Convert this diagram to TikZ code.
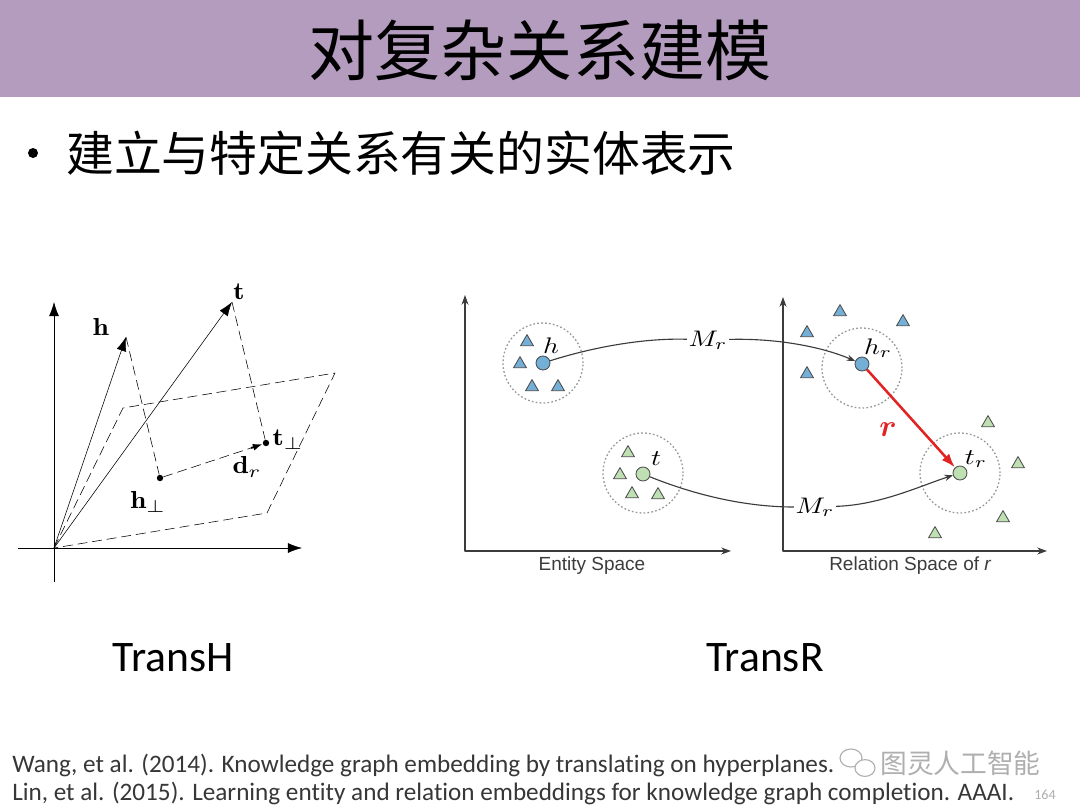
\documentclass[tikz,border=0pt]{standalone}
\usepackage{amsmath, amssymb}
\usepackage{fontspec}
\usepackage{xcolor}
\usetikzlibrary{arrows.meta, shapes.geometric}

\newfontfamily\cjk{Noto Sans CJK SC}
\newfontfamily\carl[Ligatures=NoCommon]{Carlito}
\newfontfamily\lsans{Liberation Sans}

\definecolor{titlebar}{RGB}{180,156,190}
\definecolor{entblue}{RGB}{115,175,215}
\definecolor{entgreen}{RGB}{190,224,178}
\definecolor{ringgray}{RGB}{150,150,150}
\definecolor{axisgray}{RGB}{60,60,60}
\definecolor{footgray}{RGB}{55,55,55}
\definecolor{markgray}{RGB}{175,175,175}
\definecolor{arrowred}{RGB}{225,35,35}

\tikzset{
	btri/.style = {regular polygon, regular polygon sides=3, draw=black!70, fill=entblue, line width=0.6pt, inner sep=0pt, minimum size=0.37cm},
	gtri/.style = {btri, fill=entgreen},
	bdot/.style = {circle, draw=black!70, fill=entblue, line width=0.6pt, inner sep=0pt, minimum size=0.35cm},
	gdot/.style = {bdot, fill=entgreen},
	ring/.style = {circle, draw=ringgray, line width=0.9pt, dash pattern=on 1.2pt off 1.6pt, inner sep=0pt, minimum size=2cm},
	blob/.style = {circle, fill, inner sep=0pt, minimum size=0.16cm},
	lab/.style = {inner sep=1pt},
}
\newcommand{\rlab}[1]{\scalebox{1.95}[1.6]{$#1$}}
\newcommand{\hlab}[1]{\scalebox{2.05}[1.75]{$#1$}}

\begin{document}
\begin{tikzpicture}[x=0.025cm, y=-0.025cm, line join=round]
		\useasboundingbox (0,0) rectangle (1080,810);
		\fill [white] (0,0) rectangle (1080,810);
		
		%title bar
		\fill [titlebar] (0,0) rectangle (1080,97);
		\node (title) at (540,50) {\cjk\fontsize{47}{50}\selectfont 对复杂关系建模};
		\node [blob, minimum size=0.25cm] (bullet) at (33,153) {};
		\node [anchor=west, inner sep=0pt] (sub) at (66,153) {\cjk\fontsize{34}{36}\selectfont 建立与特定关系有关的实体表示};
		
		%TransH: points
		\coordinate (O) at (54,548);
		\coordinate (xa) at (18,548);
		\coordinate (xb) at (302,548);
		\coordinate (ya) at (54,582);
		\coordinate (yb) at (54,302);
		\coordinate (h) at (126,337);
		\coordinate (t) at (232,302);
		\coordinate (pA) at (123,408);
		\coordinate (pB) at (267,513);
		\coordinate (pC) at (335,373);
		\coordinate (dr) at (251,448);
		\node [blob] (hp) at (160,478) {};
		\node [blob] (tp) at (266,443) {};
		
		%TransH: axes and hyperplane
		\draw [-{Latex[length=10pt, width=7pt]}] (xa) -- (xb);
		\draw [-{Latex[length=10pt, width=7pt]}] (ya) -- (yb);
		\draw [dashed, dash pattern=on 7pt off 3.5pt] (O) -- (pA) -- (pC) -- (pB) -- cycle;
		
		%TransH: vectors and projections
		\draw [-{Latex[length=10pt, width=7pt]}] (O) -- (h);
		\draw [-{Latex[length=10pt, width=7pt]}] (O) -- (t);
		\draw [dash pattern=on 7pt off 3.5pt] (h) -- (hp);
		\draw [dash pattern=on 7pt off 3.5pt] (t) -- (tp);
		\draw [dash pattern=on 7pt off 3.5pt] (hp) -- (dr);
		\draw [line width=1.3pt, -{Latex[length=7pt, width=5pt]}] (dr) -- (tp);
		
		\node [lab] (lh) at (101,327) {\hlab{\mathbf{h}}};
		\node [lab] (lt) at (239,292) {\hlab{\mathbf{t}}};
		\node [lab] (lhp) at (148,502) {\hlab{\mathbf{h}_\perp}};
		\node [lab] (ltp) at (288,440) {\hlab{\mathbf{t}_\perp}};
		\node [lab] (ldr) at (247,467) {\hlab{\mathbf{d}_r}};
		
		%TransR: axes
		\coordinate (eo) at (465,551);
		\coordinate (ey) at (465,295);
		\coordinate (ex) at (731,551);
		\coordinate (ro) at (783,551);
		\coordinate (ry) at (783,297);
		\coordinate (rx) at (1047,551);
		\draw [axisgray, line width=0.8pt, {Stealth[length=7pt, width=5pt]}-{Stealth[length=7pt, width=5pt]}] (ey) -- (eo) -- (ex);
		\draw [axisgray, line width=0.8pt, {Stealth[length=7pt, width=5pt]}-{Stealth[length=7pt, width=5pt]}] (ry) -- (ro) -- (rx);
		\node [axisgray, font=\lsans\fontsize{13.5}{15}\selectfont] (espace) at (592,566) {Entity Space};
		\node [axisgray, font=\lsans\fontsize{13.5}{15}\selectfont] (rspace) at (910,566) {Relation Space of {\itshape r}};
		
		%TransR: entity space
		\node [ring] (hring) at (543,363) {};
		\node [ring] (tring) at (643,473) {};
		\foreach \x/\y [count=\i] in {527/342, 520/364, 532/387, 558/387}
			\node [btri] (hn\i) at (\x,\y) {};
		\foreach \x/\y [count=\i] in {628/453, 620/475, 632/494, 658/495}
			\node [gtri] (tn\i) at (\x,\y) {};
		\node [bdot] (hc) at (543,363) {};
		\node [gdot] (tc) at (643,474) {};
		\node [lab] (lhc) at (551,346) {\rlab{h}};
		\node [lab] (ltc) at (656,459) {\rlab{t}};
		
		%TransR: relation space
		\node [ring] (hrring) at (862,368) {};
		\node [ring] (trring) at (960,473) {};
		\foreach \x/\y [count=\i] in {840/312, 903/322, 807/333, 807/374}
			\node [btri] (hrn\i) at (\x,\y) {};
		\foreach \x/\y [count=\i] in {988/423, 1018/464, 1003/518, 935/534}
			\node [gtri] (trn\i) at (\x,\y) {};
		\node [bdot] (hrc) at (862,364) {};
		\node [gdot] (trc) at (960,473) {};
		\node [lab] (lhrc) at (878,348) {\rlab{h_r}};
		\node [lab] (ltrc) at (976,459) {\rlab{t_r}};
		
		%projections M_r
		\node [lab] (mtop) at (708,340) {\rlab{M_r}};
		\node [lab] (mbot) at (815,507) {\rlab{M_r}};
		\draw [axisgray, line width=0.8pt] (hc) .. controls (600,345) and (650,338) .. (mtop);
		\draw [axisgray, line width=0.8pt, -{Stealth[length=6pt, width=4.5pt]}] (mtop) .. controls (780,338) and (825,348) .. (hrc);
		\draw [axisgray, line width=0.8pt] (tc) .. controls (700,497) and (750,507) .. (mbot);
		\draw [axisgray, line width=0.8pt, -{Stealth[length=6pt, width=4.5pt]}] (mbot) .. controls (880,505) and (920,486) .. (trc);
		
		%translation r
		\draw [arrowred, line width=1.8pt, -{Latex[length=10pt, width=7pt]}] (hrc) -- (trc);
		\node [arrowred, lab] (lr) at (888,430) {\scalebox{2.2}{$\boldsymbol{r}$}};
		
		%model names
		\node (transh) at (173,658) {\carl\fontsize{31}{34}\selectfont TransH};
		\node (transr) at (765,658) {\carl\fontsize{31}{34}\selectfont TransR};
		
		%references
		\node [anchor=base west, inner sep=0pt, footgray, font=\carl\fontsize{17.9}{20}\selectfont] (ref1) at (12,772) {Wang, et al. (2014). Knowledge graph embedding by translating on hyperplanes.};
		\node [anchor=base west, inner sep=0pt, footgray, font=\carl\fontsize{17.9}{20}\selectfont] (ref2) at (12,800) {Lin, et al. (2015). Learning entity and relation embeddings for knowledge graph completion. AAAI.};
		\node [anchor=base east, inner sep=0pt, markgray, font=\carl\fontsize{10}{12}\selectfont] (page) at (1056,799) {164};
		
		%watermark
		\node [ellipse, draw=markgray, line width=0.8pt, minimum width=0.55cm, minimum height=0.45cm] (bub1) at (851,758) {};
		\node [ellipse, draw=markgray, line width=0.8pt, fill=white, minimum width=0.5cm, minimum height=0.42cm] (bub2) at (865,768) {};
		\node [anchor=west, inner sep=0pt, markgray] (mark) at (880,763) {\cjk\fontsize{19}{21}\selectfont 图灵人工智能};
\end{tikzpicture}
\end{document}
